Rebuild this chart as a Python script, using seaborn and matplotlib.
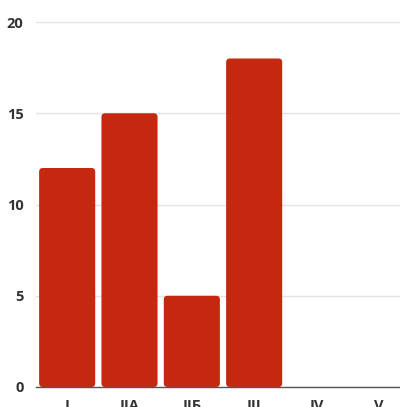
import matplotlib
matplotlib.use("Agg")
import matplotlib.pyplot as plt
from matplotlib.patches import FancyBboxPatch
import seaborn as sns
import pandas as pd

stages = ["I", "IIA", "IIБ", "III", "IV", "V"]
counts = [12, 15, 5, 18, 0, 0]
y_ticks = [0, 5, 10, 15, 20]

sns.set_theme(style="white")
plt.rcParams["font.family"] = ["Open Sans", "DejaVu Sans"]

df = pd.DataFrame({"stage": stages, "count": counts})

fig = plt.figure(figsize=(4.00, 4.07), dpi=100)
ax = fig.add_axes([36 / 400, 20 / 407, 374 / 400, 365 / 407])

sns.barplot(data=df, x="stage", y="count", color="#c5280f", saturation=1,
            width=0.9, ax=ax, zorder=3)

# rounded bar tops
x_px = 374 / 6
y_px = 365 / 20
aspect = x_px / y_px
for p in list(ax.patches):
    x, y = p.get_x(), p.get_y()
    w, h = p.get_width(), p.get_height()
    if h <= 0:
        p.remove()
        continue
    rb = FancyBboxPatch((x, y), w, h,
                        boxstyle="round,pad=0,rounding_size=0.06",
                        mutation_aspect=aspect,
                        facecolor="#c5280f", edgecolor="none", zorder=3)
    p.remove()
    ax.add_patch(rb)

ax.set_xlim(-0.5, 5.5)
ax.set_ylim(0, 20)
ax.set_yticks(y_ticks)
ax.set_yticklabels([str(v) for v in y_ticks], fontsize=10.5,
                   fontweight="bold", color="#333333")
ax.set_xticks(range(len(stages)))
ax.set_xticklabels(stages, fontsize=10.5, fontweight="bold", color="#333333")
ax.tick_params(axis="y", length=0, pad=9)
ax.tick_params(axis="x", length=0, pad=9)
ax.yaxis.grid(True, color="#e3e3e3", linewidth=1, zorder=0)
ax.set_axisbelow(True)
for s in ["top", "right", "left"]:
    ax.spines[s].set_visible(False)
ax.spines["bottom"].set_color("#555555")
ax.spines["bottom"].set_linewidth(1.0)
ax.spines["bottom"].set_zorder(4)
ax.set_xlabel("")
ax.set_ylabel("")

fig.savefig("out.png", dpi=100)
